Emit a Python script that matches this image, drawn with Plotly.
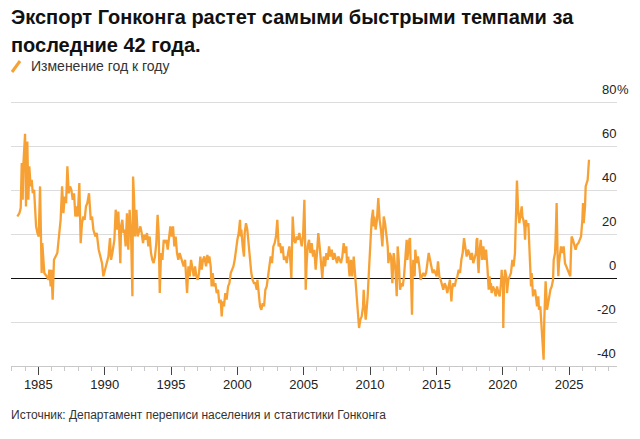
import plotly.graph_objects as go

# ---------------- data (year-on-year change of Hong Kong exports, %) ----------------
years_1983_1990 = [1983.42, 1983.57, 1983.67, 1983.75, 1983.82, 1983.87, 1984.00, 1984.07, 1984.17, 1984.25,
                   1984.32, 1984.42, 1984.50, 1984.58, 1984.68, 1984.83, 1984.93, 1985.03, 1985.13, 1985.20,
                   1985.25, 1985.30, 1985.38, 1985.45, 1985.63, 1985.76, 1985.83, 1985.93, 1985.98, 1986.08,
                   1986.18, 1986.31, 1986.43, 1986.58, 1986.68, 1986.79, 1986.89, 1986.99, 1987.09, 1987.19,
                   1987.29, 1987.39, 1987.49, 1987.59, 1987.69, 1987.79, 1987.89, 1987.97, 1988.09, 1988.19,
                   1988.29, 1988.39, 1988.49, 1988.59, 1988.69, 1988.82, 1988.95, 1989.05, 1989.15, 1989.30,
                   1989.40, 1989.55, 1989.70, 1989.80, 1989.90, 1990.03]
yoy_1983_1990 = [28.0, 29.5, 31.8, 52.3, 35.6, 51.5, 65.6, 32.6, 62.1, 35.6,
                 50.8, 41.7, 44.7, 38.6, 40.2, 23.5, 20.5, 18.9, 41.7, 15.9,
                 2.3, 15.9, 8.3, 2.3, 0.8, -0.8, 3.8, -3.8, 3.8, -9.8,
                 8.3, 9.8, 11.4, 20.5, 26.5, 41.7, 29.5, 37.1, 34.1, 50.8,
                 38.6, 41.7, 40.2, 35.6, 38.6, 28.0, 32.6, 28.0, 43.2, 15.9,
                 25.0, 28.0, 26.5, 32.6, 34.1, 38.6, 26.5, 28.0, 22.0, 18.9,
                 20.5, 12.9, 8.3, 6.8, 0.8, 3.8]

years_1990_1997 = [1990.28, 1990.40, 1990.48, 1990.58, 1990.73, 1990.83, 1990.93, 1991.03, 1991.13, 1991.18,
                   1991.23, 1991.33, 1991.41, 1991.48, 1991.58, 1991.68, 1991.78, 1991.88, 1991.99, 1992.09,
                   1992.14, 1992.21, 1992.29, 1992.39, 1992.49, 1992.59, 1992.69, 1992.79, 1992.89, 1992.99,
                   1993.09, 1993.19, 1993.29, 1993.39, 1993.49, 1993.59, 1993.69, 1993.79, 1993.89, 1993.99,
                   1994.07, 1994.15, 1994.25, 1994.35, 1994.45, 1994.55, 1994.65, 1994.75, 1994.85, 1994.95,
                   1995.05, 1995.15, 1995.25, 1995.35, 1995.45, 1995.55, 1995.65, 1995.80, 1995.95, 1996.06,
                   1996.16, 1996.21, 1996.31, 1996.41, 1996.51, 1996.61, 1996.71, 1996.81, 1996.91, 1997.01,
                   1997.11, 1997.21, 1997.31, 1997.41, 1997.51]
yoy_1990_1997 = [9.8, 18.2, 8.3, 11.4, 17.4, 31.1, 22.0, 30.3, 18.9, 6.8,
                 23.5, 26.5, 20.5, 22.0, 14.4, 29.5, 12.9, 31.1, 18.9, -8.3,
                 46.2, 37.1, 18.9, 31.1, 18.9, 22.0, 23.5, 20.5, 15.9, 19.7,
                 17.4, 20.5, 14.4, 18.9, 11.4, 8.3, 6.8, 9.8, 15.9, 28.8,
                 20.5, -6.8, 11.4, 8.3, 17.4, 15.9, 17.4, 12.9, 17.4, 23.5,
                 18.9, 23.5, 14.4, 18.9, 11.4, 8.3, 11.4, 8.3, 5.3, 8.3,
                 0.8, -6.8, 5.3, 0.8, 8.3, 3.8, 0.8, 5.3, 0.8, -0.8,
                 2.3, 9.8, 3.8, 8.3, 9.8]

years_1997_2004 = [1997.64, 1997.74, 1997.81, 1997.89, 1997.99, 1998.06, 1998.14, 1998.24, 1998.34, 1998.44,
                   1998.54, 1998.64, 1998.74, 1998.82, 1998.89, 1998.99, 1999.09, 1999.19, 1999.30, 1999.40,
                   1999.50, 1999.60, 1999.70, 1999.80, 1999.90, 2000.00, 2000.10, 2000.20, 2000.25, 2000.30,
                   2000.40, 2000.50, 2000.55, 2000.65, 2000.75, 2000.85, 2000.90, 2000.95, 2001.05, 2001.15,
                   2001.25, 2001.35, 2001.46, 2001.51, 2001.61, 2001.71, 2001.81, 2001.91, 2002.01, 2002.11,
                   2002.21, 2002.31, 2002.41, 2002.51, 2002.61, 2002.71, 2002.81, 2002.91, 2003.01, 2003.06,
                   2003.11, 2003.21, 2003.31, 2003.41, 2003.51, 2003.62, 2003.72, 2003.82, 2003.92, 2004.02,
                   2004.07, 2004.12, 2004.17, 2004.27, 2004.37, 2004.47, 2004.57, 2004.67]
yoy_1997_2004 = [5.3, 10.6, 6.8, 9.8, 5.3, -3.8, 2.3, -3.8, -2.3, -6.8,
                 -5.3, -11.4, -9.8, -17.4, -10.6, -12.9, -6.8, -9.8, -3.8, -2.3,
                 2.3, 3.8, 5.3, 8.3, 14.4, 17.4, 20.5, 26.5, 18.9, 22.0,
                 14.4, 9.8, 20.5, 25.0, 22.0, 14.4, 11.4, 8.3, 2.3, -0.8,
                 -2.3, -2.3, -5.3, -0.8, -6.8, -12.9, -14.4, -11.4, -12.9, -5.3,
                 -3.8, 0.8, 5.3, 9.8, 6.8, 14.4, 15.9, 18.9, 26.5, 20.5,
                 14.4, 15.9, 11.4, 14.4, 8.3, 9.8, 6.8, 11.4, 14.4, 5.3,
                 0.0, 14.4, 28.0, 17.4, 15.9, 18.9, 17.4, 20.5]

years_2004_2011 = [2004.75, 2004.85, 2004.95, 2005.05, 2005.10, 2005.15, 2005.22, 2005.30, 2005.40, 2005.50,
                   2005.60, 2005.70, 2005.80, 2005.90, 2006.00, 2006.10, 2006.20, 2006.30, 2006.40, 2006.50,
                   2006.61, 2006.71, 2006.81, 2006.91, 2007.01, 2007.11, 2007.21, 2007.31, 2007.41, 2007.51,
                   2007.61, 2007.71, 2007.81, 2007.91, 2008.01, 2008.11, 2008.21, 2008.26, 2008.36, 2008.41,
                   2008.46, 2008.56, 2008.66, 2008.77, 2008.87, 2008.97, 2009.07, 2009.12, 2009.17, 2009.27,
                   2009.37, 2009.47, 2009.52, 2009.57, 2009.67, 2009.72, 2009.82, 2009.92, 2010.02, 2010.12,
                   2010.22, 2010.27, 2010.32, 2010.42, 2010.52, 2010.57, 2010.62, 2010.72, 2010.82, 2010.93,
                   2011.03, 2011.13, 2011.23, 2011.33, 2011.38, 2011.48, 2011.58, 2011.68, 2011.78, 2011.85]
yoy_2004_2011 = [17.4, 14.4, 18.9, 35.6, 18.9, -5.3, 6.8, 14.4, 17.4, 11.4,
                 15.9, 9.8, 12.9, 3.8, 11.4, 20.5, 14.4, 8.3, 0.0, 9.8,
                 5.3, 11.4, 8.3, 14.4, 9.8, 12.9, 8.3, 11.4, 8.3, 6.8,
                 9.8, 8.3, 6.8, 9.8, 15.9, 11.4, 14.4, 6.8, 9.8, 3.8,
                 0.8, 8.3, 0.8, 9.8, 0.8, -6.8, -15.9, -22.0, -22.7, -18.9,
                 -17.4, -12.9, -5.3, -11.4, -18.9, -15.9, -8.3, 3.8, 14.4, 26.5,
                 31.1, 23.5, 28.0, 22.0, 26.5, 32.6, 36.4, 26.5, 22.0, 14.4,
                 28.0, 25.0, 20.5, 14.4, 6.8, 11.4, 9.8, -2.3, 11.4, 8.3]

years_2011_2019 = [2011.91, 2012.01, 2012.08, 2012.16, 2012.26, 2012.36, 2012.46, 2012.56, 2012.66, 2012.71,
                   2012.76, 2012.81, 2012.86, 2012.91, 2012.96, 2013.01, 2013.06, 2013.11, 2013.16, 2013.21,
                   2013.26, 2013.36, 2013.41, 2013.51, 2013.61, 2013.71, 2013.81, 2013.91, 2014.02, 2014.12,
                   2014.22, 2014.32, 2014.42, 2014.52, 2014.62, 2014.72, 2014.82, 2014.92, 2015.02, 2015.12,
                   2015.22, 2015.32, 2015.42, 2015.52, 2015.62, 2015.72, 2015.82, 2015.92, 2016.02, 2016.13,
                   2016.18, 2016.28, 2016.38, 2016.48, 2016.58, 2016.68, 2016.78, 2016.88, 2016.98, 2017.08,
                   2017.18, 2017.28, 2017.38, 2017.48, 2017.58, 2017.68, 2017.78, 2017.88, 2017.98, 2018.03,
                   2018.08, 2018.13, 2018.18, 2018.24, 2018.29, 2018.34, 2018.44, 2018.54, 2018.64, 2018.74,
                   2018.84, 2018.94, 2019.01]
yoy_2011_2019 = [3.8, -8.3, 14.4, 8.3, -5.3, -2.3, -3.8, 0.8, 8.3, 12.9,
                 17.4, 8.3, 11.4, 15.9, 17.4, 18.2, 2.3, -0.8, -16.7, 0.8,
                 8.3, 0.8, 12.9, 6.8, 9.8, 5.3, -0.8, 0.8, 2.3, 0.8,
                 2.3, 6.8, 11.4, 8.3, 5.3, 2.3, 3.8, 2.3, 0.8, 7.6,
                 0.8, -0.8, -3.8, -5.3, -2.3, -3.8, -6.8, -3.8, -0.8, -10.6,
                 -5.3, -2.3, -3.8, -0.8, 0.8, 3.8, 2.3, 8.3, 11.4, 18.2,
                 14.4, 9.8, 12.9, 11.4, 8.3, 11.4, 6.8, 9.8, 11.4, 17.4,
                 18.2, 6.8, 2.3, 11.4, 14.4, 17.4, 8.3, 14.4, 8.3, 12.9,
                 5.3, -5.3, 0.8]

years_2019_2026 = [2019.06, 2019.11, 2019.16, 2019.26, 2019.37, 2019.47, 2019.57, 2019.67, 2019.77, 2019.87,
                   2019.92, 2019.97, 2020.02, 2020.04, 2020.09, 2020.17, 2020.27, 2020.32, 2020.42, 2020.52,
                   2020.62, 2020.72, 2020.82, 2020.92, 2020.97, 2021.07, 2021.17, 2021.25, 2021.32, 2021.43,
                   2021.48, 2021.55, 2021.63, 2021.68, 2021.75, 2021.83, 2021.93, 2022.03, 2022.08, 2022.13,
                   2022.18, 2022.23, 2022.28, 2022.33, 2022.43, 2022.53, 2022.58, 2022.68, 2022.73, 2022.83,
                   2022.93, 2023.01, 2023.08, 2023.13, 2023.23, 2023.28, 2023.33, 2023.38, 2023.48, 2023.59,
                   2023.69, 2023.79, 2023.84, 2023.94, 2023.99, 2024.06, 2024.14, 2024.19, 2024.24, 2024.34,
                   2024.39, 2024.49, 2024.59, 2024.69, 2024.79, 2024.89, 2024.99, 2025.09, 2025.14, 2025.19,
                   2025.29, 2025.39, 2025.49, 2025.59, 2025.70, 2025.80, 2025.90, 2026.00, 2026.05, 2026.10,
                   2026.20, 2026.25, 2026.32, 2026.40, 2026.45, 2026.50]
yoy_2019_2026 = [-5.3, -2.3, -6.8, -3.8, -5.3, -8.3, -3.8, -6.8, -8.3, -2.3,
                 3.8, -3.8, 0.8, -22.7, -3.8, 3.8, 0.8, -6.8, -0.8, 0.8,
                 2.3, 8.3, 5.3, 11.4, 26.5, 44.4, 29.5, 25.0, 28.0, 32.6,
                 28.0, 26.5, 23.5, 17.4, 26.5, 23.5, 25.0, 11.4, 0.8, -3.8,
                 2.3, -2.3, -8.3, -6.8, -5.3, -9.8, -12.9, -8.3, -14.4, -12.9,
                 -22.0, -31.1, -37.1, -18.9, -1.5, -6.8, -14.4, -12.9, -8.3, -5.3,
                 -3.8, -0.8, 8.3, 11.4, 18.9, 34.1, 8.3, 0.8, 6.8, 14.4,
                 14.4, 11.4, 14.4, 6.8, 5.3, 3.8, 2.3, 0.8, 11.4, 18.9,
                 17.4, 14.4, 12.9, 15.2, 15.9, 17.4, 18.9, 26.5, 34.1, 25.0,
                 32.6, 41.7, 43.2, 44.7, 49.2, 53.8]

x_ticks = [1985, 1990, 1995, 2000, 2005, 2010, 2015, 2020, 2025]
y_ticks = [-40, -20, 0, 20, 40, 60, 80]

title_line1 = "Экспорт Гонконга растет самыми быстрыми темпами за"
title_line2 = "последние 42 года."
legend_text = "Изменение год к году"
source_text = "Источник: Департамент переписи населения и статистики Гонконга"

years = (years_1983_1990 + years_1990_1997 + years_1997_2004 +
         years_2004_2011 + years_2011_2019 + years_2019_2026)
yoy = (yoy_1983_1990 + yoy_1990_1997 + yoy_1997_2004 +
       yoy_2004_2011 + yoy_2011_2019 + yoy_2019_2026)

# ---------------- layout helpers ----------------
W, H = 640, 439
ML, MR, MT, MB = 11, 23, 100, 73
PW, PH = W - ML - MR, H - MT - MB


def px_x(x):
    return (x - ML) / PW


def px_y(y):
    return (H - MB - y) / PH


FONT = "Liberation Sans, Arial, sans-serif"
ORANGE = "#f7a134"

fig = go.Figure()
fig.add_trace(go.Scatter(x=years, y=yoy, mode="lines",
                         line=dict(color=ORANGE, width=2.3),
                         showlegend=False, hoverinfo="skip"))

fig.update_layout(
    width=W, height=H,
    margin=dict(l=ML, r=MR, t=MT, b=MB),
    paper_bgcolor="white", plot_bgcolor="white",
    font=dict(family=FONT, color="#222"),
    xaxis=dict(range=[1982.94, 2028.61], tickmode="array", tickvals=x_ticks,
               ticktext=[str(v) for v in x_ticks],
               showgrid=False, zeroline=False,
               showline=True, linecolor="#c8c8c8", linewidth=1,
               ticks="outside", ticklen=8, tickcolor="#444", tickwidth=1,
               ticklabelstandoff=-2,
               tickfont=dict(size=13, color="#222", family=FONT),
               minor=dict(dtick=1, tick0=1985, ticks="outside", ticklen=4,
                          tickcolor="#c8c8c8", tickwidth=1, showgrid=False),
               fixedrange=True),
    yaxis=dict(range=[-40, 81], tickmode="array", tickvals=y_ticks,
               showticklabels=False, showgrid=True, gridcolor="#dcdcdc", gridwidth=1,
               zeroline=True, zerolinecolor="#111", zerolinewidth=1,
               showline=False, ticks="", fixedrange=True),
)

annotations = []
# Y tick labels (right side, above gridlines)
for v in y_ticks:
    annotations.append(dict(x=1, xref="paper", y=v, yref="y", text=str(v),
                            xanchor="right", yanchor="middle", showarrow=False,
                            xshift=1, yshift=13,
                            font=dict(size=13, color="#222", family=FONT)))
annotations.append(dict(x=1, xref="paper", y=80, yref="y", text="%",
                        xanchor="left", yanchor="middle", showarrow=False,
                        xshift=-2, yshift=13,
                        font=dict(size=13, color="#222", family=FONT)))
# Title
annotations.append(dict(x=px_x(9), xref="paper", y=px_y(17), yref="paper",
                        text="<b>" + title_line1 + "</b>", xanchor="left", yanchor="middle",
                        showarrow=False, font=dict(size=20, color="#111", family=FONT)))
annotations.append(dict(x=px_x(9), xref="paper", y=px_y(45), yref="paper",
                        text="<b>" + title_line2 + "</b>", xanchor="left", yanchor="middle",
                        showarrow=False, font=dict(size=20, color="#111", family=FONT)))
# Legend
annotations.append(dict(x=px_x(29), xref="paper", y=px_y(66), yref="paper",
                        text=legend_text, xanchor="left", yanchor="middle",
                        showarrow=False, font=dict(size=14, color="#333", family=FONT)))
# Source
annotations.append(dict(x=px_x(9), xref="paper", y=px_y(415), yref="paper",
                        text=source_text, xanchor="left", yanchor="middle",
                        showarrow=False, font=dict(size=12, color="#333", family=FONT)))
fig.update_layout(annotations=annotations)

# legend stroke (diagonal)
fig.add_shape(type="line", xref="paper", yref="paper",
              x0=px_x(12), y0=px_y(72), x1=px_x(20), y1=px_y(61),
              line=dict(color=ORANGE, width=3))

fig.write_html("out.html", config={"displayModeBar": False})
